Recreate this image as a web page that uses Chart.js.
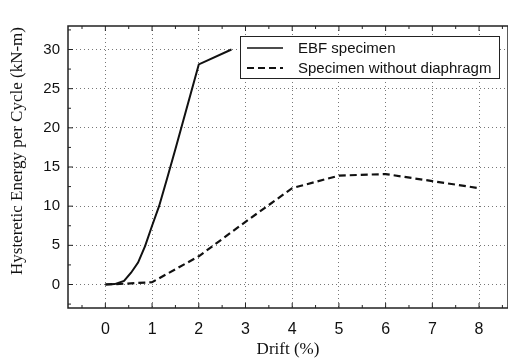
<!DOCTYPE html>
<html>
<head>
<meta charset="utf-8">
<script src="https://cdn.jsdelivr.net/npm/chart.js@4/dist/chart.umd.min.js"></script>
<style>
    html, body { margin: 0; padding: 0; background: #fff; }
    #wrap { width: 508px; height: 360px; }
</style>
</head>
<body>
<div id="wrap"><canvas id="energyChart" width="508" height="360"></canvas></div>
<script>
// Data
const ebfDrift = [0, 0.2, 0.4, 0.55, 0.7, 0.85, 1.0, 1.15, 1.32, 1.5, 2.0, 2.7];
const ebfEnergy = [0, 0.05, 0.45, 1.5, 2.8, 4.9, 7.5, 10, 13.5, 17.3, 28.1, 30];
const noDiaDrift = [0, 0.4, 1, 2, 3, 4, 5, 6, 7, 8];
const noDiaEnergy = [0, 0.1, 0.3, 3.6, 8, 12.3, 13.9, 14.1, 13.2, 12.3];
const seriesLabels = ['EBF specimen', 'Specimen without diaphragm'];
const xTicks = [0, 1, 2, 3, 4, 5, 6, 7, 8];
const yTicks = [0, 5, 10, 15, 20, 25, 30];

function toPoints(xs, ys) {
    return xs.map((x, i) => ({ x: x, y: ys[i] }));
}

// frame, inward ticks, y title and boxed legend
const decorPlugin = {
    id: 'decor',
    afterDraw(chart) {
        const ctx = chart.ctx;
        const a = chart.chartArea;
        const xs = chart.scales.x;
        const ys = chart.scales.y;
        ctx.save();
        ctx.strokeStyle = '#222';
        ctx.lineWidth = 1.5;
        ctx.strokeRect(a.left, a.top, a.right - a.left, a.bottom - a.top);

        ctx.lineWidth = 1;
        for (let v = -0.5; v <= 8.5; v += 0.5) {
            const px = xs.getPixelForValue(v);
            const len = Number.isInteger(v) ? 5 : 3;
            ctx.beginPath();
            ctx.moveTo(px, a.bottom);
            ctx.lineTo(px, a.bottom - len);
            ctx.moveTo(px, a.top);
            ctx.lineTo(px, a.top + len);
            ctx.stroke();
        }
        for (let v = -2.5; v <= 32.5; v += 2.5) {
            const py = ys.getPixelForValue(v);
            const len = v % 5 === 0 ? 5 : 3;
            ctx.beginPath();
            ctx.moveTo(a.left, py);
            ctx.lineTo(a.left + len, py);
            ctx.stroke();
        }

        // y axis title
        ctx.fillStyle = '#111';
        ctx.font = '17px "Liberation Serif", serif';
        ctx.textAlign = 'center';
        ctx.textBaseline = 'middle';
        ctx.translate(18, 151);
        ctx.rotate(-Math.PI / 2);
        ctx.fillText('Hysteretic Energy per Cycle (kN-m)', 0, 0);
        ctx.restore();

        // legend
        ctx.save();
        const bx = 240, by = 36, bw = 259, bh = 42;
        ctx.fillStyle = '#fff';
        ctx.fillRect(bx, by, bw, bh);
        ctx.strokeStyle = '#222';
        ctx.lineWidth = 1;
        ctx.strokeRect(bx + 0.5, by + 0.5, bw, bh);
        ctx.font = '15px "Liberation Sans", Arial, sans-serif';
        ctx.textBaseline = 'middle';
        ctx.textAlign = 'left';
        chart.data.datasets.forEach((ds, i) => {
            const ly = by + 12 + i * 20;
            ctx.strokeStyle = ds.borderColor;
            ctx.lineWidth = i === 0 ? 1.5 : 2;
            ctx.setLineDash(ds.borderDash || []);
            ctx.beginPath();
            ctx.moveTo(bx + 7, ly);
            ctx.lineTo(bx + 43, ly);
            ctx.stroke();
            ctx.setLineDash([]);
            ctx.fillStyle = '#111';
            ctx.fillText(ds.label, bx + 58, ly + 1);
        });
        ctx.restore();
    }
};

const config = {
    type: 'scatter',
    data: {
        datasets: [{
            label: seriesLabels[0],
            data: toPoints(ebfDrift, ebfEnergy),
            showLine: true,
            borderColor: '#111',
            borderWidth: 2,
            pointRadius: 0,
            tension: 0
        }, {
            label: seriesLabels[1],
            data: toPoints(noDiaDrift, noDiaEnergy),
            showLine: true,
            borderColor: '#111',
            borderWidth: 2.2,
            borderDash: [7, 4],
            pointRadius: 0,
            tension: 0
        }]
    },
    options: {
        responsive: false,
        animation: false,
        layout: { padding: { top: 26, right: 0, left: 0, bottom: 0 } },
        plugins: {
            legend: { display: false },
            tooltip: { enabled: false }
        },
        scales: {
            x: {
                type: 'linear',
                min: -0.8,
                max: 8.62,
                afterFit(scale) { scale.height = 52; },
                afterBuildTicks(scale) { scale.ticks = xTicks.map(v => ({ value: v })); },
                grid: {
                    color: '#777',
                    lineWidth: 1,
                    drawTicks: false
                },
                border: { display: false, dash: [1, 3] },
                ticks: {
                    color: '#111',
                    padding: 12,
                    maxRotation: 0,
                    font: { family: '"Liberation Sans", Arial, sans-serif', size: 16 }
                },
                title: {
                    display: true,
                    text: 'Drift (%)',
                    color: '#111',
                    padding: { top: 2, bottom: 0 },
                    font: { family: '"Liberation Serif", serif', size: 17 }
                }
            },
            y: {
                type: 'linear',
                min: -3,
                max: 33,
                afterFit(scale) { scale.width = 68; },
                afterBuildTicks(scale) { scale.ticks = yTicks.map(v => ({ value: v })); },
                grid: {
                    color: '#777',
                    lineWidth: 1,
                    drawTicks: false
                },
                border: { display: false, dash: [1, 3] },
                ticks: {
                    color: '#111',
                    padding: 8,
                    font: { family: '"Liberation Sans", Arial, sans-serif', size: 15 }
                }
            }
        }
    },
    plugins: [decorPlugin]
};

window.onload = function() {
    try {
        new Chart(document.getElementById('energyChart').getContext('2d'), config);
    } catch (error) {
        console.error('Error initializing chart:', error);
    }
};
</script>
</body>
</html>
